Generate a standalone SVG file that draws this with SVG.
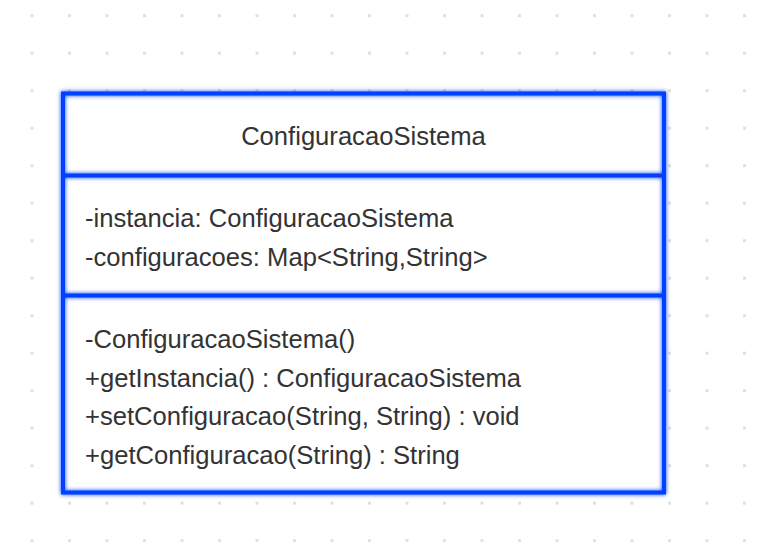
<svg xmlns="http://www.w3.org/2000/svg" width="760" height="542" viewBox="0 0 760 542">
<defs>
<pattern id="grid" x="30.5" y="14.2" width="37.5" height="37.5" patternUnits="userSpaceOnUse">
<rect x="0" y="0" width="3" height="3" fill="#e0e0e0"/>
</pattern>
<filter id="glow" x="-10%" y="-10%" width="120%" height="120%">
<feGaussianBlur in="SourceGraphic" stdDeviation="2.2" result="b"/>
<feMerge><feMergeNode in="b"/><feMergeNode in="SourceGraphic"/></feMerge>
</filter>
</defs>
<style>
.t{font-family:"Liberation Sans",Arial,sans-serif;font-size:25.6px;fill:#333333}
.ln{stroke:#0040ff;stroke-width:4;fill:none}
</style>
<rect width="760" height="542" fill="#ffffff"/>
<rect width="760" height="542" fill="url(#grid)"/>
<g id="ConfiguracaoSistema">
<rect x="63" y="93.5" width="601" height="399" fill="#ffffff"/>
<g filter="url(#glow)">
<rect class="ln" x="63" y="93.5" width="601" height="399"/>
<line class="ln" x1="63" y1="175.5" x2="664" y2="175.5"/>
<line class="ln" x1="63" y1="295.5" x2="664" y2="295.5"/>
</g>
<text class="t" x="363.5" y="145" text-anchor="middle">ConfiguracaoSistema</text>
<text class="t" x="85" y="227">-instancia: ConfiguracaoSistema</text>
<text class="t" x="85" y="266">-configuracoes: Map&lt;String,String&gt;</text>
<text class="t" x="85" y="348">-ConfiguracaoSistema()</text>
<text class="t" x="85" y="387">+getInstancia() : ConfiguracaoSistema</text>
<text class="t" x="85" y="425">+setConfiguracao(String, String) : void</text>
<text class="t" x="85" y="464">+getConfiguracao(String) : String</text>
</g>
<g id="connectors"/>
</svg>
